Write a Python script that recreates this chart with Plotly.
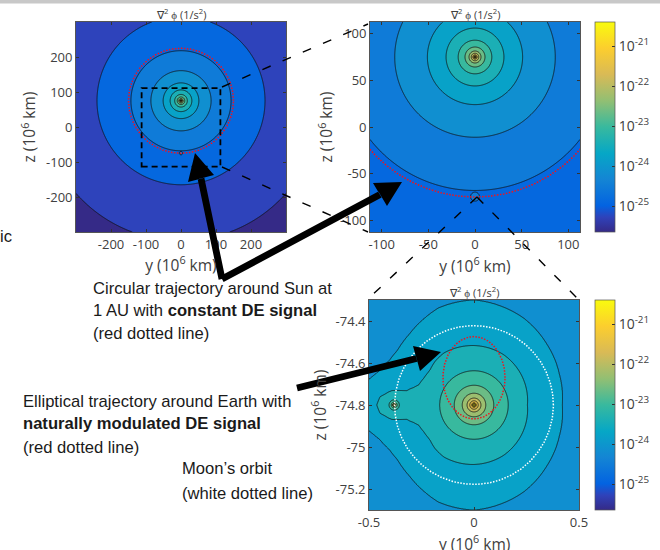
import numpy as np
import plotly.graph_objects as go

# ---- values ----
PARULA_POS = [0, 0.07, 0.125, 0.25, 0.375, 0.5, 0.625, 0.75, 0.875, 1]
PARULA = ['#352a87', '#2f42ba', '#0363e1', '#1485d4', '#06a7c6', '#38b99e', '#92bf73', '#d9ba56', '#fcce2e', '#f9fb0e']
CB_MIN, CB_MAX = -25.65, -20.4
N_BANDS = 14
CB_TICKS = [-25, -24, -23, -22, -21]
CB_LABELS = ['10<sup>-25</sup>', '10<sup>-24</sup>', '10<sup>-23</sup>', '10<sup>-22</sup>', '10<sup>-21</sup>']

SUN_Z = 75.0
EARTH_Z = -74.8
SUN_LEVEL = list(range(14))
SUN_RADIUS = [400, 240, 143, 86, 51, 31, 18, 10.7, 6.4, 4.0, 2.3, 1.4, 0.85, 0.5]
EARTH_FAR_RADIUS = [30, 4.5, 0.5]
EARTH_FAR_LEVEL = [-4, 2, 2.9]

P3_EARTH_INNER_R = [0.163, 0.094, 0.056, 0.033, 0.020, 0.011, 0.0066, 0.004]
P3_EARTH_INNER_L = [6, 7, 8, 9, 10, 11, 12, 13]
P3_ANGLE = [0, 20, 40, 60, 90, 110, 120, 132, 141, 145, 152, 160, 164, 166, 168, 170, 172, 175, 180]
P3_L4_R = [.42, .432, .452, .476, .5, .492, .475, .457, .45, .448, .455, .478, .5, .513, .56, .635, .72, .8, .85]
P3_L5_R = [.254, .262, .270, .278, .283, .285, .286, .278, .268, .268, .271, .28, .30, .315, .327, .397, .415, .449, .463]
MOON_Y = -0.38
MOON_R = [0.007, 0.014, 0.024, 0.06, 0.2]
MOON_L = [8, 7, 6, 5.5, 0]

AU_RADIUS = 150.0
MOON_ORBIT_R = 0.378
ELLIPSE_Z = -74.67
ELLIPSE_A, ELLIPSE_B = 0.148, 0.196

P1_TICKS = [-200, -100, 0, 100, 200]
P1_LABELS = ['-200', '-100', '0', '100', '200']
P2_TICKS = [-100, -50, 0, 50, 100]
P2_LABELS = ['-100', '-50', '0', '50', '100']
P3_XTICKS = [-0.5, 0, 0.5]
P3_XLABELS = ['-0.5', '0', '0.5']
P3_YTICKS = [-75.2, -75, -74.8, -74.6, -74.4]
P3_YLABELS = ['-75.2', '-75', '-74.8', '-74.6', '-74.4']

cs = (CB_MAX - CB_MIN) / N_BANDS
L0 = CB_MIN + cs / 2
SCALE = [[p, c] for p, c in zip(PARULA_POS, PARULA)]
FONT = 'Open Sans'
TICK = '#404040'


def px(x):
    return x / 660


def py(y):
    return 1 - y / 550


def smax(a, b, k=6.0):
    return np.logaddexp(k * a, k * b) / k


def sun_idx(r):
    rr = np.array(SUN_RADIUS[::-1])
    ll = np.array(SUN_LEVEL[::-1], float)
    return np.interp(np.log(np.maximum(r, 1e-6)), np.log(rr), ll, left=14)\
        - np.maximum(0, np.log(np.maximum(r, 1) / 400)) * 1.5


def earth_far_idx(r):
    return np.interp(np.log(np.maximum(r, 1e-6)), np.log(EARTH_FAR_RADIUS[::-1]), EARTH_FAR_LEVEL[::-1], left=2.9, right=-6)


def far_grid(xs, ys):
    X, Y = np.meshgrid(xs, ys)
    rs = np.hypot(X, Y - SUN_Z)
    re = np.hypot(X, Y - EARTH_Z)
    return (L0 + cs * smax(sun_idx(rs), earth_far_idx(re))).astype('f4')


def near_grid(xs, ys):
    X, Y = np.meshgrid(xs, ys)
    dy = Y - EARTH_Z
    r = np.hypot(X, dy)
    th = np.degrees(np.arctan2(np.abs(dy), X))
    r4 = np.interp(th, P3_ANGLE, P3_L4_R)
    r5 = np.interp(th, P3_ANGLE, P3_L5_R)
    r6 = P3_EARTH_INNER_R[0]
    idx = np.interp(np.log(np.maximum(r, 1e-6)), np.log(P3_EARTH_INNER_R[::-1]), P3_EARTH_INNER_L[::-1], left=14)
    mid = (r >= r6) & (r < r5)
    idx = np.where(mid, 6 - (r - r6) / (r5 - r6), idx)
    out = (r >= r5) & (r < r4)
    idx = np.where(out, 5 - (r - r5) / (r4 - r5), idx)
    far = r >= r4
    idx = np.where(far, 4 - np.minimum(0.8, (r - r4)), idx)
    rm = np.hypot(X - MOON_Y, dy)
    mo = np.interp(np.log(np.maximum(rm, 1e-6)), np.log(MOON_R), MOON_L[:], left=9, right=0)
    return (L0 + cs * np.maximum(idx, mo)).astype('f4')


def contour(x, y, z, xa, ya):
    return go.Contour(
        x=x, y=y, z=z, xaxis=xa, yaxis=ya, colorscale=SCALE, showscale=False,
        autocontour=False, hoverinfo='skip',
        contours=dict(start=L0, end=L0 + cs * (N_BANDS - 1), size=cs, coloring='fill'),
        line=dict(color='#101010', width=0.8),
    )


theta = np.linspace(0, 2 * np.pi, 721)
DOT = '1.5px,1.5px'
RED = '#f0141e'
fig = go.Figure()

# panel 1
x1 = np.linspace(-300, 300, 601)
fig.add_trace(contour(x1, x1, far_grid(x1, x1), 'x', 'y'))
fig.add_trace(go.Scatter(x=AU_RADIUS * np.cos(theta), y=SUN_Z + AU_RADIUS * np.sin(theta), mode='lines',
                         line=dict(color=RED, width=1.5, dash=DOT), xaxis='x', yaxis='y', hoverinfo='skip'))
# panel 2
x2 = np.linspace(-112.5, 112.5, 561)
fig.add_trace(contour(x2, x2, far_grid(x2, x2), 'x2', 'y2'))
fig.add_trace(go.Scatter(x=AU_RADIUS * np.cos(theta), y=SUN_Z + AU_RADIUS * np.sin(theta), mode='lines',
                         line=dict(color=RED, width=1.5, dash=DOT), xaxis='x2', yaxis='y2', hoverinfo='skip'))
# panel 3
x3 = np.linspace(-0.5, 0.5, 561)
y3 = np.linspace(EARTH_Z - 0.5, EARTH_Z + 0.5, 561)
fig.add_trace(contour(x3, y3, near_grid(x3, y3), 'x3', 'y3'))
fig.add_trace(go.Scatter(x=MOON_ORBIT_R * np.cos(theta), y=EARTH_Z + MOON_ORBIT_R * np.sin(theta), mode='lines',
                         line=dict(color='white', width=1.5, dash=DOT), xaxis='x3', yaxis='y3', hoverinfo='skip'))
fig.add_trace(go.Scatter(x=ELLIPSE_A * np.cos(theta), y=ELLIPSE_Z + ELLIPSE_B * np.sin(theta), mode='lines',
                         line=dict(color=RED, width=1.5, dash=DOT), xaxis='x3', yaxis='y3', hoverinfo='skip'))


def cbar_trace(xa, ya, top, bottom):
    return go.Scatter(
        x=[None], y=[None], xaxis=xa, yaxis=ya, mode='markers', hoverinfo='skip',
        marker=dict(color=[-23], cmin=CB_MIN, cmax=CB_MAX, colorscale=SCALE, showscale=True, opacity=0,
                    colorbar=dict(x=px(595), xanchor='left', xref='paper', yref='paper', y=py(bottom), yanchor='bottom',
                                  len=(bottom - top) / 550, lenmode='fraction', thickness=20, thicknessmode='pixels',
                                  xpad=0, ypad=0, outlinecolor='#555555', outlinewidth=0.7,
                                  ticks='inside', ticklen=3, tickcolor='#333333', tickvals=CB_TICKS, ticktext=CB_LABELS,
                                  tickfont=dict(family=FONT, size=14, color=TICK))))


fig.add_trace(cbar_trace('x2', 'y2', 22, 232))
fig.add_trace(cbar_trace('x3', 'y3', 300, 510))


def axis_style(tv, tt, rng, title, standoff, **kw):
    return dict(range=rng, tickvals=tv, ticktext=tt, ticks='inside', ticklen=3, tickcolor='#333333',
                showline=True, linecolor='#555555', linewidth=0.8, mirror='ticks', showgrid=False, zeroline=False,
                tickfont=dict(family=FONT, size=13, color=TICK),
                title=dict(text=title, font=dict(family=FONT, size=15.5, color=TICK), standoff=standoff),
                automargin=False, **kw)


YT = 'y (10<sup>6</sup> km)'
ZT = 'z (10<sup>6</sup> km)'
fig.update_layout(
    width=660, height=550, autosize=False, showlegend=False,
    paper_bgcolor='white', plot_bgcolor='white',
    margin=dict(l=0, r=0, t=0, b=0),
    xaxis=axis_style(P1_TICKS, P1_LABELS, [-300, 300], YT, 8, domain=[px(76), px(286)], anchor='y'),
    yaxis=axis_style(P1_TICKS, P1_LABELS, [-300, 300], ZT, 6, domain=[py(232), py(22)], anchor='x'),
    xaxis2=axis_style(P2_TICKS, P2_LABELS, [-112.5, 112.5], YT, 9, domain=[px(370), px(580)], anchor='y2'),
    yaxis2=axis_style(P2_TICKS, P2_LABELS, [-112.5, 112.5], ZT, 3, domain=[py(232), py(22)], anchor='x2'),
    xaxis3=axis_style(P3_XTICKS, P3_XLABELS, [-0.5, 0.5], '', 8, domain=[px(369), px(579)], anchor='y3'),
    yaxis3=axis_style(P3_YTICKS, P3_YLABELS, [EARTH_Z - 0.5, EARTH_Z + 0.5], ZT, 5, domain=[py(510), py(300)], anchor='x3'),
)

shapes = [dict(type='rect', xref='paper', yref='paper', x0=0, x1=1, y0=py(3.5), y1=1, fillcolor='#c8c8c8', line_width=0)]
shapes.append(dict(type='rect', xref='x', yref='y', x0=-112.5, x1=112.5, y0=-113, y1=111,
                   line=dict(color='black', width=1.8, dash='6px,4px')))
for a, b in [((222, 87), (368, 24)), ((222, 167), (368, 232)), ((477, 197), (369, 298)), ((477, 197), (579, 300))]:
    shapes.append(dict(type='line', xref='paper', yref='paper', x0=px(a[0]), y0=py(a[1]), x1=px(b[0]), y1=py(b[1]),
                       line=dict(color='black', width=1.4, dash='9px,13px')))


def arrow(tail, tip, base1, base2, w=3.4):
    bx = (base1[0] + base2[0]) / 2
    by = (base1[1] + base2[1]) / 2
    dx, dy = bx - tail[0], by - tail[1]
    n = np.hypot(dx, dy)
    ox, oy = -dy / n * w, dx / n * w
    pts = [(tail[0] + ox, tail[1] + oy), (bx + ox, by + oy), base1, tip, base2, (bx - ox, by - oy), (tail[0] - ox, tail[1] - oy)]
    path = 'M ' + ' L '.join(f'{px(p[0]):.5f} {py(p[1]):.5f}' for p in pts) + ' Z'
    return dict(type='path', xref='paper', yref='paper', path=path, fillcolor='black', line_width=0)


shapes.append(arrow((222, 279), (195, 153), (188, 182), (214, 175)))
shapes.append(arrow((222, 279), (402, 182), (373, 183), (387, 206)))
shapes.append(arrow((297, 388), (441, 352), (413, 346), (420, 371)))
fig.update_layout(shapes=shapes)

notes = [
    (0, 236, 'ic'),
    (93, 288, 'Circular trajectory around Sun at'),
    (93, 310, '1 AU with <b>constant DE signal</b>'),
    (93, 333, '(red dotted line)'),
    (23, 401, 'Elliptical trajectory around Earth with'),
    (23, 423, '<b>naturally modulated DE signal</b>'),
    (23, 447, '(red dotted line)'),
    (182, 468, 'Moon\u2019s orbit'),
    (182, 493, '(white dotted line)'),
]
ann = [dict(xref='paper', yref='paper', x=px(x), y=py(y), text=t, showarrow=False, xanchor='left', yanchor='middle',
            xshift=-2, align='left', font=dict(family='Liberation Sans', size=16.6, color='#1a1a1a')) for x, y, t in notes]
for x, y in [(181, 14), (475, 14), (474, 292)]:
    ann.append(dict(xref='paper', yref='paper', x=px(x), y=py(y), text='\u2207<sup>2</sup> \u03d5 (1/s<sup>2</sup>)', showarrow=False,
                    xanchor='center', yanchor='middle', font=dict(family=FONT, size=11, color=TICK)))
ann.append(dict(xref='paper', yref='paper', x=px(474), y=py(543), text=YT, showarrow=False, xanchor='center', yanchor='middle',
                font=dict(family=FONT, size=15.5, color=TICK)))
fig.update_layout(annotations=ann)

fig.write_html('out.html', post_script="document.body.style.margin='0';", config={'displayModeBar': False})
